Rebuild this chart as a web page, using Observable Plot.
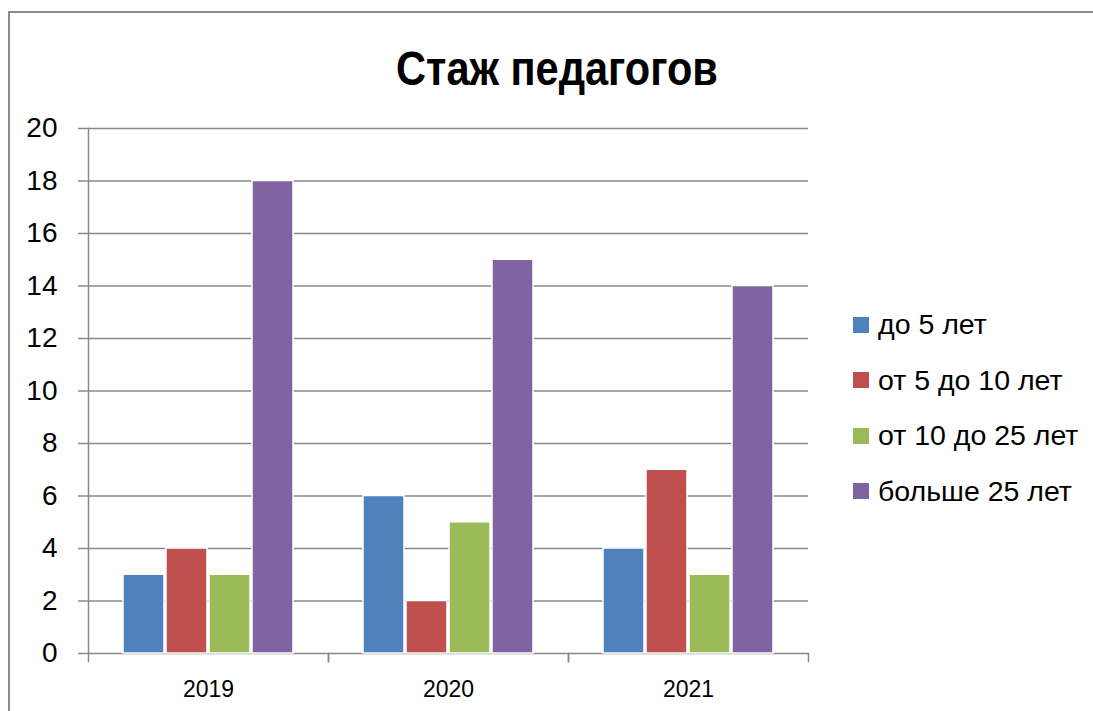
<!DOCTYPE html>
<html><head><meta charset="utf-8">
<script src="https://cdn.jsdelivr.net/npm/d3@7"></script>
<script src="https://cdn.jsdelivr.net/npm/@observablehq/plot@0.6"></script>
<style>
body{margin:0;background:#fff;font-family:"Liberation Sans",Arial,sans-serif;}
#wrap{position:relative;width:1093px;height:711px;overflow:hidden;}
#border{position:absolute;left:8px;top:11px;width:1200px;height:800px;border-left:2px solid #8a8a8a;border-top:2px solid #8a8a8a;}
#chart{position:absolute;left:0;top:0;}
#title{position:absolute;left:257px;top:45px;width:600px;text-align:center;font-weight:bold;font-size:48px;line-height:48px;color:#000;transform:scaleX(0.865);transform-origin:300px 0;}
#legend{position:absolute;left:853px;top:297px;}
.row{display:flex;align-items:center;height:55.5px;font-size:28.5px;color:#000;}
.sw{width:16px;height:16px;margin-right:9px;}
</style>
</head><body>
<div id="wrap">
  <div id="border"></div>
  <div id="chart"></div>
  <div id="title">Стаж педагогов</div>
  <div id="legend"></div>
</div>
<script>
const years = ["2019", "2020", "2021"];
const series = ["до 5 лет", "от 5 до 10 лет", "от 10 до 25 лет", "больше 25 лет"];
const upTo5 = [3, 6, 4];
const from5to10 = [4, 2, 7];
const from10to25 = [3, 5, 3];
const over25 = [18, 15, 14];
const colors = ["#4F81BD", "#C0504D", "#9BBB59", "#8064A2"];
const yTicks = [0, 2, 4, 6, 8, 10, 12, 14, 16, 18, 20];

const valuesBySeries = [upTo5, from5to10, from10to25, over25];
const rows = [];
years.forEach((yr, i) => series.forEach((s, j) => rows.push({year: yr, series: s, value: valuesBySeries[j][i]})));

const W = 1093, H = 711, mt = 128, mb = 58, ml = 88, mr = 285;
const gridColor = "#898989";

const chart = Plot.plot({
  width: W, height: H,
  marginTop: mt, marginBottom: mb, marginLeft: ml, marginRight: mr,
  style: {background: "transparent", fontFamily: "'Liberation Sans', Arial, sans-serif", color: "#000"},
  fx: {domain: years, padding: 0, label: null},
  x: {domain: series, paddingInner: 2 / 44, paddingOuter: 0.75, axis: null},
  y: {domain: [0, 20], axis: null},
  color: {domain: series, range: colors},
  marks: [
    Plot.gridY(yTicks, {stroke: gridColor, strokeOpacity: 1, strokeWidth: 1.5}),
    Plot.frame({anchor: "left", fx: () => years[0], stroke: gridColor, strokeWidth: 1.5}),
    Plot.frame({anchor: "left", stroke: gridColor, strokeWidth: 1.5, insetTop: H - mt - mb, insetBottom: -8}),
    Plot.frame({anchor: "right", stroke: gridColor, strokeWidth: 1.5, insetTop: H - mt - mb, insetBottom: -8}),
    Plot.barY(rows, {fx: "year", x: "series", y: "value", fill: "series", stroke: "white", strokeWidth: 1.5}),
    Plot.axisY({ticks: yTicks, tickSize: 10, tickPadding: 21, fontSize: 28, stroke: gridColor, strokeWidth: 1.5, label: null}),
    Plot.axisFx({anchor: "bottom", tickSize: 0, tickPadding: 27, fontSize: 23, label: null})
  ]
});
document.getElementById("chart").appendChild(chart);

const legend = document.getElementById("legend");
series.forEach((s, i) => {
  const r = document.createElement("div");
  r.className = "row";
  const sw = document.createElement("span");
  sw.className = "sw";
  sw.style.background = colors[i];
  const t = document.createElement("span");
  t.textContent = s;
  r.appendChild(sw); r.appendChild(t);
  legend.appendChild(r);
});
</script>
</body></html>
